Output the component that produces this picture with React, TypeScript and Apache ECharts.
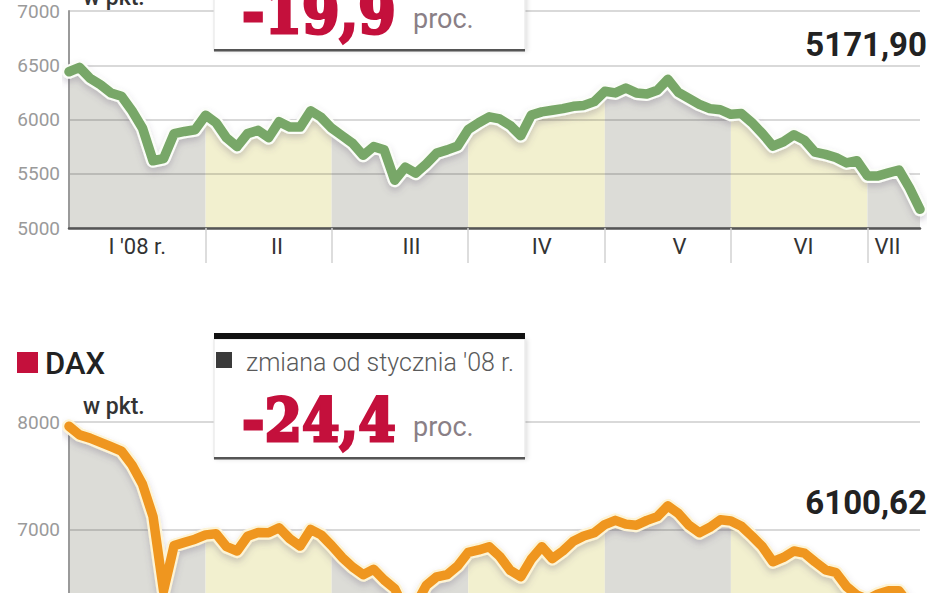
import React, { useEffect, useRef } from "react";
import * as echarts from "echarts";

// ---- data ----
const monthLabels = ["I '08 r.", "II", "III", "IV", "V", "VI", "VII"];
// sample index at which each month starts (samples ~ every 2 trading days)
const monthStarts = [0, 13, 25, 38, 51, 63, 76];
// sample position where each month label sits
const monthLabelAt = [6.5, 19.8, 32.6, 45, 58.1, 69.9, 77.9];

const ftseValues = [
  6440, 6480, 6380, 6320, 6245, 6215, 6080, 5920, 5620, 5640,
  5870, 5890, 5905, 6040, 5970, 5830, 5750, 5870, 5900, 5832,
  5980, 5930, 5930, 6080, 6020, 5920, 5850, 5780, 5670, 5750,
  5720, 5440, 5560, 5505, 5590, 5690, 5720, 5755, 5908, 5970,
  6025, 6005, 5945, 5850, 6040, 6070, 6085, 6100, 6122, 6130,
  6165, 6260, 6245, 6290, 6245, 6235, 6270, 6370, 6250, 6195,
  6140, 6100, 6090, 6048, 6055, 5972, 5870, 5755, 5795, 5860,
  5810, 5700, 5679, 5650, 5600, 5620, 5480, 5480, 5508, 5535,
  5370, 5171.9,
];

const daxValues = [
  7960, 7880, 7850, 7810, 7770, 7730, 7600, 7420, 7120, 6430,
  6850, 6880, 6910, 6950, 6960, 6840, 6800, 6938, 6972, 6970,
  7016, 6915, 6846, 7000, 6950, 6850, 6740, 6650, 6580, 6630,
  6530, 6450, 6250, 6300, 6480, 6560, 6580, 6661, 6788, 6810,
  6840, 6750, 6620, 6560, 6724, 6840, 6730, 6800, 6890, 6940,
  6970, 7046, 7085, 7050, 7040, 7085, 7120, 7220, 7150, 7040,
  6970, 7020, 7090, 7080, 7030, 6938, 6840, 6700, 6740, 6800,
  6780, 6700, 6625, 6600, 6470, 6390, 6350, 6400, 6430, 6430,
  6300, 6100.62,
];

const ftseTicks = [5000, 5500, 6000, 6500, 7000];
const daxTicks = [7000, 8000];
const ftseLast = "5171,90";
const daxLast = "6100,62";
const ftseChange = "-19,9";
const daxChange = "-24,4";
const daxTitle = "DAX";
const unitLabel = "w pkt.";
const changeLabel = "zmiana od stycznia '08 r.";
const percentLabel = "proc.";

// ---- styles ----
const BAND_COLORS = ["#dcdcd7", "#f2f0cf"];
const RED = "#c4103c";
const SANS = "Roboto, 'Noto Sans', sans-serif";

function panelSeries(values: number[], idx: number, lineColor: string, haloColor: string) {
  const pts = values.map((v, i) => [i, v]);
  const out: any[] = [];
  monthStarts.forEach((s, k) => {
    const e = k + 1 < monthStarts.length ? monthStarts[k + 1] : values.length - 1;
    out.push({
      type: "line",
      xAxisIndex: idx,
      yAxisIndex: idx,
      data: pts.slice(s, e + 1),
      symbol: "none",
      silent: true,
      lineStyle: { width: 0 },
      areaStyle: { color: BAND_COLORS[k % 2], opacity: 1, origin: "start" },
      z: 1,
    });
  });
  out.push({
    type: "line",
    xAxisIndex: idx,
    yAxisIndex: idx,
    data: pts,
    symbol: "none",
    silent: true,
    lineStyle: {
      width: 14,
      color: haloColor,
      join: "round",
      cap: "round",
      shadowColor: "rgba(90,80,110,0.25)",
      shadowBlur: 6,
      shadowOffsetY: 4,
    },
    z: 4,
  });
  out.push({
    type: "line",
    xAxisIndex: idx,
    yAxisIndex: idx,
    data: pts,
    symbol: "none",
    silent: true,
    lineStyle: { width: 9.5, color: lineColor, join: "round", cap: "round" },
    z: 5,
  });
  return out;
}

function xAxisFor(idx: number, n: number, showLabels: boolean) {
  return {
    type: "value",
    gridIndex: idx,
    min: 0,
    max: n - 1,
    z: 3,
    splitLine: { show: false },
    axisLine: { show: true, onZero: false, lineStyle: { color: "#555", width: 2.5 } },
    axisTick: {
      show: true,
      customValues: monthStarts.slice(1),
      length: 35,
      lineStyle: { color: "#d2d2d2", width: 1.5 },
    },
    axisLabel: {
      show: showLabels,
      customValues: monthLabelAt,
      formatter: (v: number) => {
        const i = monthLabelAt.indexOf(v);
        return i >= 0 ? monthLabels[i] : "";
      },
      margin: 7,
      fontFamily: SANS,
      fontSize: 22,
      color: "#333",
    },
  };
}

function yAxisFor(idx: number, min: number, max: number, interval: number, ticks: number[]) {
  return {
    type: "value",
    gridIndex: idx,
    min,
    max,
    interval,
    z: 3,
    axisLine: { show: true, lineStyle: { color: "#9a9a9a", width: 2 } },
    axisTick: { show: false },
    splitLine: { show: true, lineStyle: { color: "rgba(0,0,0,0.2)", width: 1.5 } },
    axisLabel: {
      customValues: ticks,
      formatter: (v: number) => String(v),
      margin: 9,
      fontFamily: SANS,
      fontSize: 19,
      color: "#9a9a9a",
    },
  };
}

function changeBox(dy: number, value: string, withHeader: boolean) {
  const els: any[] = [
    {
      type: "rect",
      shape: { x: 214, y: 339 + dy, width: 311, height: 120 },
      style: {
        fill: "#fff",
        stroke: "#e3e3e3",
        lineWidth: 1,
        shadowBlur: 4,
        shadowColor: "rgba(0,0,0,0.12)",
        shadowOffsetX: 2,
      },
      z: 10,
    },
    { type: "rect", shape: { x: 214, y: 333 + dy, width: 311, height: 6 }, style: { fill: "#111" }, z: 11 },
    { type: "rect", shape: { x: 214, y: 457 + dy, width: 311, height: 2.5 }, style: { fill: "#555" }, z: 11 },
    {
      type: "text",
      x: 242,
      y: 419 + dy,
      scaleX: 0.9,
      style: {
        text: value,
        fontFamily: "'DejaVu Serif', serif",
        fontWeight: "bold",
        fontSize: 60,
        fill: RED,
        stroke: RED,
        lineWidth: 3,
        verticalAlign: "middle",
      },
      z: 12,
    },
    {
      type: "text",
      x: 413,
      y: 427 + dy,
      style: { text: percentLabel, fontFamily: SANS, fontSize: 27, fill: "#8a7f86", verticalAlign: "middle" },
      z: 12,
    },
  ];
  if (withHeader) {
    els.push(
      { type: "rect", shape: { x: 216, y: 352 + dy, width: 16, height: 16 }, style: { fill: "#3a3a3a" }, z: 12 },
      {
        type: "text",
        x: 246,
        y: 362 + dy,
        style: { text: changeLabel, fontFamily: SANS, fontWeight: 300, fontSize: 25, fill: "#5a5a5a", verticalAlign: "middle" },
        z: 12,
      }
    );
  }
  return els;
}

export default function App() {
  const ref = useRef<HTMLDivElement>(null);

  useEffect(() => {
    if (!ref.current) return;
    const chart = echarts.init(ref.current, undefined, { renderer: "svg" });
    const graphic: any[] = [
      // top panel (FTSE), mostly above the visible area as in the reference
      ...changeBox(-408, ftseChange, false),
      {
        type: "text",
        x: 83,
        y: -3,
        style: { text: unitLabel, fontFamily: SANS, fontWeight: 500, fontSize: 23, fill: "#333", verticalAlign: "middle" },
        z: 12,
      },
      {
        type: "text",
        x: 927,
        y: 44,
        style: { text: ftseLast, fontFamily: SANS, fontWeight: "bold", fontSize: 33, fill: "#222", align: "right", verticalAlign: "middle" },
        z: 12,
      },
      // bottom panel (DAX)
      { type: "rect", shape: { x: 17, y: 352, width: 21, height: 21 }, style: { fill: RED }, z: 12 },
      {
        type: "text",
        x: 45,
        y: 363,
        style: { text: daxTitle, fontFamily: SANS, fontWeight: 500, fontSize: 31, fill: "#222", verticalAlign: "middle" },
        z: 12,
      },
      {
        type: "text",
        x: 83,
        y: 406,
        style: { text: unitLabel, fontFamily: SANS, fontWeight: 500, fontSize: 23, fill: "#333", verticalAlign: "middle" },
        z: 12,
      },
      ...changeBox(0, daxChange, true),
      {
        type: "text",
        x: 927,
        y: 502,
        style: { text: daxLast, fontFamily: SANS, fontWeight: "bold", fontSize: 33, fill: "#222", align: "right", verticalAlign: "middle" },
        z: 12,
      },
    ];

    chart.setOption({
      animation: false,
      backgroundColor: "#fff",
      grid: [
        { left: 69, top: 11, width: 851, height: 217, outerBoundsMode: "none", containLabel: false },
        { left: 69, top: 422, width: 851, height: 215, outerBoundsMode: "none", containLabel: false },
      ],
      xAxis: [xAxisFor(0, ftseValues.length, true), xAxisFor(1, daxValues.length, false)],
      yAxis: [yAxisFor(0, 5000, 7000, 500, ftseTicks), yAxisFor(1, 6000, 8000, 1000, daxTicks)],
      series: [
        ...panelSeries(ftseValues, 0, "#78a768", "#fbfdf8"),
        ...panelSeries(daxValues, 1, "#ef961f", "#fdf4d6"),
      ],
      graphic,
    });
    return () => chart.dispose();
  }, []);

  return (
    <div style={{ position: "fixed", left: 0, top: 0, width: 948, height: 593, overflow: "hidden", background: "#fff" }}>
      <div ref={ref} style={{ width: 948, height: 593 }} />
    </div>
  );
}
